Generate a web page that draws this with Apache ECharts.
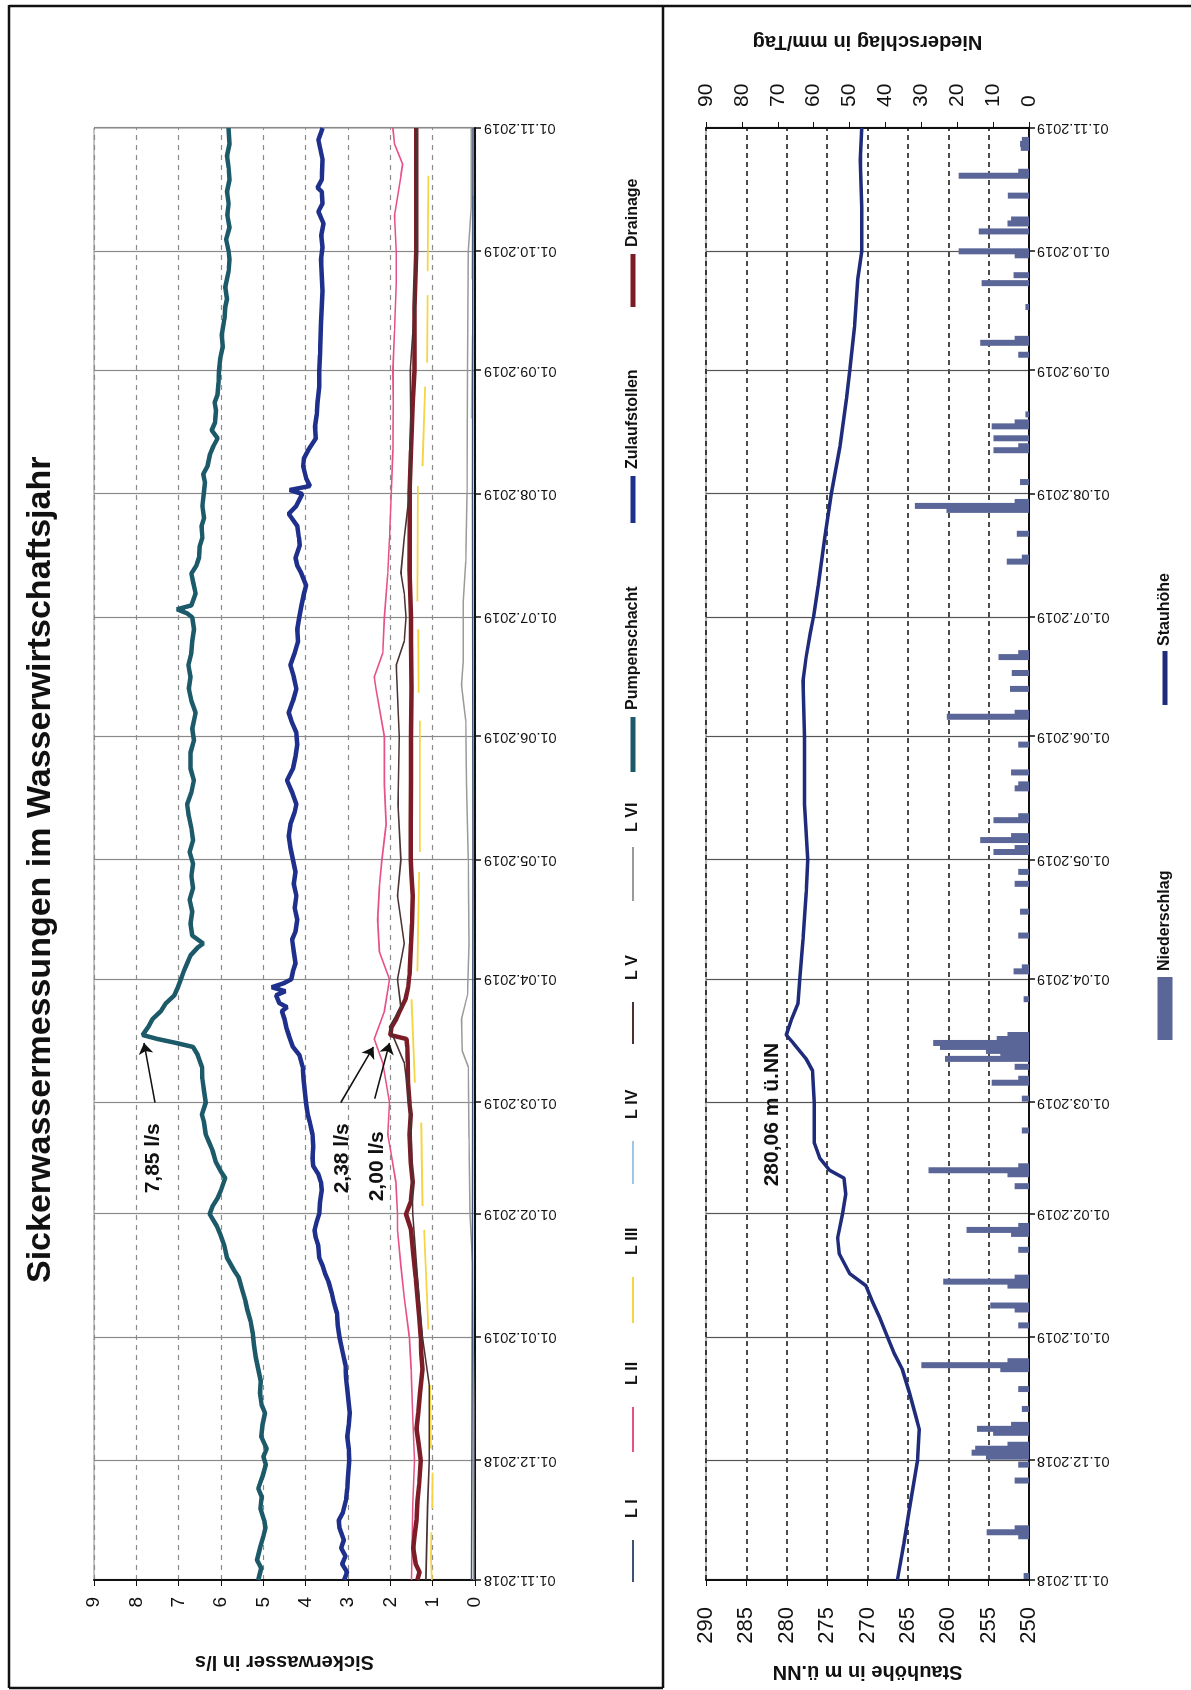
<!DOCTYPE html>
<html lang="de">
<head>
<meta charset="utf-8">
<title>Sickerwassermessungen im Wasserwirtschaftsjahr</title>
<script src="https://cdn.jsdelivr.net/npm/echarts@6.0.0/dist/echarts.min.js"></script>
<style>
  html, body { margin: 0; padding: 0; width: 1191px; height: 1690px; overflow: hidden; background: #fff; }
  /* the sheet is laid out in landscape and turned a quarter counter-clockwise */
  #sheet { position: absolute; left: 0; top: 0; width: 1690px; height: 1191px;
           transform-origin: 0 0; transform: translate(0, 1690px) rotate(-90deg); }
</style>
</head>
<body>
<div id="sheet"></div>
<script>
// ---------- measured values ----------
const pumpenschacht = [
  ['2018-11-01',5.12],['2018-11-04',5.05],['2018-11-06',5.15],['2018-11-09',5.08],['2018-11-12',5.00],['2018-11-14',4.95],
  ['2018-11-16',4.98],['2018-11-19',5.07],['2018-11-22',5.04],['2018-11-24',5.12],['2018-11-27',5.02],['2018-11-30',4.94],
  ['2018-12-02',5.00],['2018-12-04',4.92],['2018-12-07',5.05],['2018-12-10',5.02],['2018-12-13',4.96],['2018-12-15',5.04],
  ['2018-12-18',5.08],['2018-12-21',5.06],['2018-12-24',5.12],['2018-12-27',5.18],['2018-12-30',5.22],['2019-01-02',5.25],
  ['2019-01-05',5.30],['2019-01-08',5.38],['2019-01-10',5.42],['2019-01-13',5.50],['2019-01-16',5.58],['2019-01-18',5.70],
  ['2019-01-21',5.86],['2019-01-24',5.92],['2019-01-27',6.02],['2019-01-29',6.10],['2019-02-01',6.27],['2019-02-03',6.20],
  ['2019-02-05',6.08],['2019-02-07',6.00],['2019-02-10',5.90],['2019-02-12',6.02],['2019-02-14',6.12],['2019-02-17',6.20],
  ['2019-02-19',6.28],['2019-02-21',6.36],['2019-02-24',6.40],['2019-02-26',6.45],['2019-03-01',6.36],['2019-03-04',6.40],
  ['2019-03-07',6.44],['2019-03-10',6.45],['2019-03-13',6.55],['2019-03-15',6.66],['2019-03-16',7.06],['2019-03-17',7.50],
  ['2019-03-18',7.85],['2019-03-20',7.72],['2019-03-22',7.62],['2019-03-24',7.42],['2019-03-26',7.30],['2019-03-28',7.10],
  ['2019-03-30',7.02],['2019-04-01',6.95],['2019-04-03',6.88],['2019-04-05',6.80],['2019-04-07',6.72],['2019-04-09',6.55],
  ['2019-04-10',6.42],['2019-04-11',6.55],['2019-04-12',6.68],['2019-04-15',6.72],['2019-04-18',6.68],['2019-04-21',6.74],
  ['2019-04-24',6.66],['2019-04-27',6.70],['2019-04-30',6.66],['2019-05-03',6.74],['2019-05-06',6.66],['2019-05-09',6.70],
  ['2019-05-12',6.76],['2019-05-15',6.80],['2019-05-18',6.70],['2019-05-21',6.64],['2019-05-24',6.72],['2019-05-28',6.72],
  ['2019-05-31',6.64],['2019-06-03',6.68],['2019-06-07',6.60],['2019-06-10',6.70],['2019-06-13',6.76],['2019-06-16',6.72],
  ['2019-06-19',6.77],['2019-06-22',6.70],['2019-06-25',6.68],['2019-06-28',6.64],['2019-07-01',6.68],['2019-07-02',6.80],
  ['2019-07-03',7.04],['2019-07-04',6.70],['2019-07-07',6.60],['2019-07-10',6.66],['2019-07-12',6.70],['2019-07-14',6.58],
  ['2019-07-16',6.52],['2019-07-19',6.50],['2019-07-21',6.44],['2019-07-24',6.46],['2019-07-26',6.40],['2019-07-29',6.44],
  ['2019-08-01',6.41],['2019-08-04',6.38],['2019-08-06',6.42],['2019-08-08',6.32],['2019-08-11',6.26],['2019-08-13',6.18],
  ['2019-08-15',6.08],['2019-08-17',6.22],['2019-08-19',6.14],['2019-08-22',6.12],['2019-08-24',6.15],['2019-08-26',6.08],
  ['2019-08-29',6.06],['2019-09-01',6.05],['2019-09-04',6.02],['2019-09-07',5.96],['2019-09-10',5.98],['2019-09-14',5.92],
  ['2019-09-17',5.90],['2019-09-19',5.86],['2019-09-22',5.90],['2019-09-26',5.82],['2019-09-29',5.80],['2019-10-01',5.82],
  ['2019-10-04',5.88],['2019-10-07',5.80],['2019-10-10',5.85],['2019-10-13',5.82],['2019-10-16',5.86],['2019-10-19',5.80],
  ['2019-10-22',5.82],['2019-10-25',5.86],['2019-10-28',5.80],['2019-11-01',5.82]
];

const zulaufstollen = [
  ['2018-11-01',3.09],['2018-11-03',3.02],['2018-11-05',3.14],['2018-11-07',3.06],['2018-11-09',3.16],['2018-11-11',3.10],
  ['2018-11-14',3.20],['2018-11-16',3.22],['2018-11-18',3.12],['2018-11-21',3.05],['2018-11-24',3.02],['2018-11-27',3.00],
  ['2018-12-01',2.97],['2018-12-04',2.98],['2018-12-07',3.02],['2018-12-10',2.98],['2018-12-13',2.96],['2018-12-16',2.99],
  ['2018-12-19',3.02],['2018-12-22',3.05],['2018-12-25',3.06],['2018-12-28',3.12],['2019-01-01',3.20],['2019-01-04',3.24],
  ['2019-01-07',3.26],['2019-01-10',3.34],['2019-01-12',3.38],['2019-01-15',3.46],['2019-01-17',3.54],['2019-01-19',3.60],
  ['2019-01-21',3.68],['2019-01-24',3.70],['2019-01-26',3.76],['2019-01-28',3.79],['2019-01-30',3.74],['2019-02-01',3.68],
  ['2019-02-04',3.66],['2019-02-07',3.62],['2019-02-09',3.64],['2019-02-11',3.70],['2019-02-13',3.82],['2019-02-15',3.84],
  ['2019-02-18',3.82],['2019-02-21',3.84],['2019-02-24',3.90],['2019-02-26',3.95],['2019-03-01',3.99],['2019-03-04',4.02],
  ['2019-03-07',4.05],['2019-03-10',4.07],['2019-03-13',4.15],['2019-03-15',4.30],['2019-03-18',4.40],['2019-03-20',4.46],
  ['2019-03-22',4.50],['2019-03-24',4.56],['2019-03-25',4.44],['2019-03-26',4.62],['2019-03-28',4.70],['2019-03-29',4.48],
  ['2019-03-30',4.80],['2019-03-31',4.52],['2019-04-01',4.34],['2019-04-03',4.30],['2019-04-05',4.24],['2019-04-08',4.28],
  ['2019-04-11',4.32],['2019-04-13',4.24],['2019-04-16',4.20],['2019-04-19',4.26],['2019-04-22',4.22],['2019-04-25',4.28],
  ['2019-04-28',4.24],['2019-05-01',4.30],['2019-05-04',4.36],['2019-05-07',4.40],['2019-05-10',4.36],['2019-05-13',4.26],
  ['2019-05-15',4.22],['2019-05-18',4.32],['2019-05-21',4.44],['2019-05-24',4.30],['2019-05-27',4.24],['2019-05-30',4.20],
  ['2019-06-02',4.22],['2019-06-05',4.34],['2019-06-07',4.40],['2019-06-10',4.30],['2019-06-13',4.22],['2019-06-16',4.28],
  ['2019-06-19',4.36],['2019-06-22',4.26],['2019-06-25',4.18],['2019-06-28',4.20],['2019-07-01',4.15],['2019-07-04',4.10],
  ['2019-07-07',4.04],['2019-07-09',3.99],['2019-07-12',4.10],['2019-07-14',4.20],['2019-07-16',4.24],['2019-07-19',4.14],
  ['2019-07-21',4.16],['2019-07-24',4.20],['2019-07-27',4.40],['2019-07-29',4.22],['2019-08-01',4.08],['2019-08-02',4.38],
  ['2019-08-03',3.90],['2019-08-05',3.99],['2019-08-08',4.06],['2019-08-10',4.04],['2019-08-12',3.94],['2019-08-15',3.76],
  ['2019-08-18',3.78],['2019-08-21',3.74],['2019-08-24',3.72],['2019-08-28',3.68],['2019-09-01',3.68],['2019-09-05',3.66],
  ['2019-09-09',3.65],['2019-09-13',3.64],['2019-09-17',3.62],['2019-09-21',3.60],['2019-09-25',3.62],['2019-09-29',3.64],
  ['2019-10-02',3.60],['2019-10-05',3.63],['2019-10-08',3.58],['2019-10-11',3.70],['2019-10-13',3.60],['2019-10-16',3.62],
  ['2019-10-17',3.72],['2019-10-19',3.62],['2019-10-24',3.60],['2019-10-29',3.70],['2019-11-01',3.60]
];

const drainage = [
  ['2018-11-01',1.36],['2018-11-03',1.31],['2018-11-05',1.40],['2018-11-09',1.46],['2018-11-12',1.43],['2018-11-16',1.38],
  ['2018-11-21',1.36],['2018-11-25',1.32],['2018-12-01',1.28],['2018-12-05',1.33],['2018-12-09',1.38],['2018-12-13',1.34],
  ['2018-12-18',1.30],['2018-12-24',1.24],['2018-12-28',1.27],['2019-01-01',1.28],['2019-01-06',1.32],['2019-01-11',1.36],
  ['2019-01-16',1.40],['2019-01-22',1.46],['2019-01-28',1.51],['2019-02-01',1.63],['2019-02-04',1.52],['2019-02-09',1.47],
  ['2019-02-14',1.52],['2019-02-21',1.55],['2019-02-26',1.52],['2019-03-01',1.55],['2019-03-06',1.58],['2019-03-11',1.59],
  ['2019-03-15',1.60],['2019-03-17',1.62],['2019-03-18',2.00],['2019-03-20',1.97],['2019-03-22',1.86],['2019-03-24',1.78],
  ['2019-03-27',1.64],['2019-03-30',1.58],['2019-04-02',1.55],['2019-04-06',1.53],['2019-04-10',1.51],['2019-04-15',1.49],
  ['2019-04-22',1.47],['2019-04-27',1.50],['2019-05-01',1.52],['2019-05-10',1.52],['2019-05-21',1.51],['2019-06-01',1.51],
  ['2019-06-13',1.50],['2019-06-25',1.51],['2019-07-01',1.51],['2019-07-13',1.55],['2019-07-25',1.54],['2019-08-01',1.55],
  ['2019-08-12',1.51],['2019-08-24',1.47],['2019-09-01',1.43],['2019-09-17',1.43],['2019-10-01',1.39],['2019-10-15',1.39],
  ['2019-11-01',1.39]
];

const lZwei = [
  ['2018-11-01',1.50],['2018-11-20',1.47],['2018-12-01',1.43],['2018-12-12',1.47],['2018-12-24',1.51],['2019-01-01',1.55],
  ['2019-01-11',1.67],['2019-01-19',1.75],['2019-01-28',1.83],['2019-02-01',1.83],['2019-02-09',1.87],['2019-02-16',1.98],
  ['2019-02-21',2.06],['2019-03-01',2.02],['2019-03-11',2.18],['2019-03-17',2.38],['2019-03-24',2.14],['2019-04-01',2.02],
  ['2019-04-08',2.26],['2019-04-16',2.30],['2019-04-24',2.26],['2019-05-01',2.20],['2019-05-10',2.10],['2019-05-20',2.14],
  ['2019-06-01',2.14],['2019-06-13',2.34],['2019-06-16',2.38],['2019-06-22',2.18],['2019-07-01',2.14],['2019-07-12',2.06],
  ['2019-07-21',2.02],['2019-08-01',1.98],['2019-08-12',1.94],['2019-08-24',1.93],['2019-09-01',1.94],['2019-09-11',1.90],
  ['2019-09-23',1.86],['2019-10-01',1.86],['2019-10-10',1.90],['2019-10-20',1.75],['2019-10-23',1.71],['2019-10-28',1.90],
  ['2019-11-01',1.94]
];

const lDrei = [
  ['2018-11-01',1.02],['2018-11-07',1.04],['2018-11-13',1.03],['2018-11-14',null],['2018-11-19',1.01],['2018-11-28',1.00],
  ['2018-11-29',null],['2018-12-04',1.04],['2018-12-20',1.06],['2018-12-21',null],['2019-01-03',1.10],['2019-01-28',1.20],
  ['2019-01-29',null],['2019-02-03',1.24],['2019-02-24',1.27],['2019-02-25',null],['2019-03-06',1.42],['2019-03-27',1.50],
  ['2019-03-28',null],['2019-04-03',1.36],['2019-04-28',1.32],['2019-04-29',null],['2019-05-03',1.30],['2019-06-05',1.30],
  ['2019-06-06',null],['2019-06-12',1.33],['2019-06-28',1.34],['2019-06-29',null],['2019-07-05',1.36],['2019-08-03',1.35],
  ['2019-08-04',null],['2019-08-08',1.24],['2019-08-28',1.18],['2019-08-29',null],['2019-09-03',1.13],['2019-09-20',1.12],
  ['2019-09-21',null],['2019-09-26',1.12],['2019-10-20',1.10]
];

const lFuenf = [
  ['2018-11-01',1.16],['2018-11-20',1.12],['2018-12-01',1.08],['2018-12-20',1.08],['2019-01-01',1.24],['2019-01-16',1.36],
  ['2019-02-01',1.47],['2019-02-21',1.51],['2019-03-01',1.55],['2019-03-11',1.67],['2019-03-17',1.91],['2019-03-20',2.02],
  ['2019-03-25',1.75],['2019-04-01',1.83],['2019-04-10',1.67],['2019-04-22',1.83],['2019-05-01',1.75],['2019-05-15',1.82],
  ['2019-06-01',1.79],['2019-06-19',1.86],['2019-06-25',1.67],['2019-07-01',1.63],['2019-07-07',1.67],['2019-07-12',1.75],
  ['2019-07-21',1.67],['2019-08-01',1.55],['2019-08-12',1.51],['2019-09-01',1.53],['2019-09-17',1.43],['2019-10-01',1.39],
  ['2019-11-01',1.39]
];

const lSechs = [
  ['2018-11-01',0.03],['2018-12-15',0.03],['2019-01-20',0.06],['2019-02-01',0.12],['2019-02-20',0.14],['2019-03-10',0.16],
  ['2019-03-14',0.30],['2019-03-22',0.32],['2019-03-28',0.18],['2019-04-10',0.14],['2019-05-01',0.16],['2019-05-20',0.20],
  ['2019-06-05',0.22],['2019-06-14',0.32],['2019-06-20',0.28],['2019-07-05',0.28],['2019-07-15',0.22],['2019-08-01',0.19],
  ['2019-09-01',0.18],['2019-10-01',0.16],['2019-10-12',0.09],['2019-11-01',0.09]
];

const lEins = [
  ['2018-11-01',0.08],['2018-12-10',0.07],['2019-02-01',0.06],['2019-05-01',0.05],['2019-08-01',0.06],['2019-11-01',0.05]
];

const lVier = [
  ['2019-08-20',0.08],['2019-09-10',0.06],['2019-09-11',null],['2019-09-24',0.07],['2019-10-15',0.05]
];

const stauhoehe = [
  ['2018-11-01',266.3],['2018-11-10',265.5],['2018-11-19',264.8],['2018-12-01',263.8],['2018-12-09',263.6],['2018-12-12',264.0],
  ['2018-12-18',264.8],['2018-12-24',265.7],['2018-12-28',266.7],['2019-01-01',267.5],['2019-01-06',268.5],['2019-01-10',269.4],
  ['2019-01-14',270.2],['2019-01-17',272.2],['2019-01-22',273.5],['2019-01-26',273.7],['2019-02-01',273.1],['2019-02-06',272.7],
  ['2019-02-10',272.9],['2019-02-12',274.7],['2019-02-15',275.9],['2019-02-19',276.6],['2019-03-01',276.6],['2019-03-09',276.8],
  ['2019-03-12',277.6],['2019-03-16',279.2],['2019-03-18',280.06],['2019-03-22',279.4],['2019-03-26',278.6],['2019-04-01',278.4],
  ['2019-04-11',278.0],['2019-04-23',277.6],['2019-05-01',277.4],['2019-05-15',277.8],['2019-06-01',277.8],['2019-06-15',278.0],
  ['2019-06-21',277.6],['2019-06-27',277.1],['2019-07-01',276.7],['2019-07-09',276.1],['2019-07-21',275.3],['2019-08-01',274.5],
  ['2019-08-13',273.4],['2019-08-25',272.6],['2019-09-01',272.2],['2019-09-12',271.6],['2019-09-24',271.2],['2019-10-01',270.7],
  ['2019-10-12',270.7],['2019-10-24',270.9],['2019-11-01',270.7]
];

const niederschlag = [
  ['2018-11-02',1.5],['2018-11-12',3],['2018-11-13',11.8],['2018-11-14',4],['2018-11-26',4],['2018-11-30',3],
  ['2018-12-02',12],['2018-12-03',16],['2018-12-04',15],['2018-12-05',6],['2018-12-08',10],['2018-12-09',14.5],['2018-12-10',5],
  ['2018-12-14',2],['2018-12-19',3],['2018-12-24',8],['2018-12-25',30],['2018-12-26',6],
  ['2019-01-04',3],['2019-01-08',4],['2019-01-09',10.8],['2019-01-14',6],['2019-01-15',23.9],['2019-01-16',4],['2019-01-23',3],
  ['2019-01-27',5],['2019-01-28',17.4],['2019-01-29',3],
  ['2019-02-08',4],['2019-02-11',6],['2019-02-12',28],['2019-02-13',3],['2019-02-22',2],
  ['2019-03-02',2],['2019-03-06',10.4],['2019-03-07',3],['2019-03-10',4],['2019-03-12',23.4],['2019-03-13',8],['2019-03-14',12],
  ['2019-03-15',24.8],['2019-03-16',26.7],['2019-03-17',9],['2019-03-18',6],['2019-03-27',1.5],
  ['2019-04-03',4.3],['2019-04-04',2],['2019-04-12',3],['2019-04-18',2.5],['2019-04-25',4],['2019-04-28',3],
  ['2019-05-03',9.9],['2019-05-04',4],['2019-05-06',13.6],['2019-05-07',5],['2019-05-11',9.9],['2019-05-12',3],['2019-05-19',4],
  ['2019-05-20',3],['2019-05-23',5],['2019-05-30',3],
  ['2019-06-06',22.9],['2019-06-07',4],['2019-06-13',5.3],['2019-06-17',4.8],['2019-06-21',8.5],['2019-06-22',3],
  ['2019-07-15',6.2],['2019-07-16',2],['2019-07-22',3.4],['2019-07-28',23],['2019-07-29',31.8],['2019-07-30',4],
  ['2019-08-04',2.5],['2019-08-12',9.9],['2019-08-13',3],['2019-08-15',9.9],['2019-08-18',10.4],['2019-08-19',4],['2019-08-21',1],
  ['2019-09-05',3],['2019-09-08',13.6],['2019-09-09',4],['2019-09-17',1],['2019-09-23',13.2],['2019-09-25',4.3],['2019-09-30',4],
  ['2019-10-01',19.6],['2019-10-06',14],['2019-10-08',6],['2019-10-09',5],['2019-10-15',5.9],['2019-10-20',19.6],['2019-10-21',3],
  ['2019-10-27',2.3],['2019-10-28',2.5],['2019-10-29',2]
];

const sickerTicks = { min: 0, max: 9, step: 1 };
const stauTicks = { min: 250, max: 290, step: 5 };
const regenTicks = { min: 0, max: 90, step: 10 };

// ---------- daily time line of the water year ----------
const days = [];
for (let t = Date.UTC(2018, 10, 1); t <= Date.UTC(2019, 10, 1); t += 86400000) {
  days.push(new Date(t).toISOString().slice(0, 10));
}
const dayIndex = {};
days.forEach((d, i) => { dayIndex[d] = i; });
const pts = list => list.map(([d, v]) => [dayIndex[d], v]);
const isMonthStart = (i, v) => String(v).slice(8) === '01';
const fmtDate = v => v.slice(8) + '.' + v.slice(5, 7) + '.' + v.slice(0, 4);

const FONT = '"Liberation Sans", Arial, Helvetica, sans-serif';
const INK = '#111';

// date labels use a narrow face when one is installed
function fontInstalled(name) {
  const ctx = document.createElement('canvas').getContext('2d');
  const probe = '01.11.2018 Wasserwirtschaft';
  ctx.font = '40px monospace';
  const base = ctx.measureText(probe).width;
  ctx.font = '40px "' + name + '", monospace';
  return ctx.measureText(probe).width !== base;
}
const narrow = fontInstalled('Liberation Sans Narrow');
const DATE_FONT = narrow ? '"Liberation Sans Narrow", ' + FONT : FONT;
const DATE_SIZE = narrow ? 17 : 14.5;

function dateAxis(gridIndex, margin, monthLine) {
  return {
    type: 'category', gridIndex, data: days, boundaryGap: false,
    axisLine: { show: true, onZero: false, lineStyle: { color: INK, width: 2 } },
    axisTick: { show: true, interval: isMonthStart, length: 6, lineStyle: { color: INK, width: 1.5 } },
    axisLabel: { interval: isMonthStart, rotate: 90, margin, fontSize: DATE_SIZE, fontFamily: DATE_FONT,
                 color: INK, formatter: fmtDate },
    splitLine: { show: true, interval: isMonthStart, lineStyle: { color: monthLine, width: 1.2 } }
  };
}

function line(name, data, color, width, z) {
  return {
    name, type: 'line', xAxisIndex: 0, yAxisIndex: 0, data: pts(data),
    symbol: 'none', showSymbol: false, connectNulls: false, z,
    lineStyle: { color, width }, itemStyle: { color }, emphasis: { disabled: true }
  };
}

function legendItem(name, left, top, w, h, textPad) {
  return {
    data: [name], left, top, icon: 'rect', itemWidth: w, itemHeight: h, itemGap: 0, padding: 0,
    textStyle: { fontSize: 16, fontWeight: 'bold', color: INK, fontFamily: FONT, padding: [0, 0, 0, textPad] }
  };
}

const noteLabel = text => ({
  show: true, position: 'inside', formatter: text, fontSize: 21, fontWeight: 'bold', color: INK, fontFamily: FONT
});
const arrow = (a, b) => ({
  symbol: ['none', 'arrow'], symbolSize: 11, silent: true, animation: false,
  label: { show: false }, lineStyle: { color: INK, width: 1.6, type: 'solid' },
  data: [[{ coord: [dayIndex[a[0]], a[1]] }, { coord: [dayIndex[b[0]], b[1]] }]]
});
const note = (d, v, text) => ({
  symbol: 'circle', symbolSize: 0, silent: true, animation: false,
  label: noteLabel(text), data: [{ coord: [dayIndex[d], v] }]
});

const chart = echarts.init(document.getElementById('sheet'), null, { renderer: 'canvas', width: 1690, height: 1191 });

const pump = line('Pumpenschacht', pumpenschacht, '#1c5a69', 4.5, 9);
pump.markPoint = note('2019-02-15', 7.6, '7,85 l/s');
pump.markLine = arrow(['2019-03-01', 7.56], ['2019-03-16', 7.82]);

const pink = line('L II', lZwei, '#e8508a', 1.6, 4);
pink.markPoint = note('2019-02-15', 3.13, '2,38 l/s');
pink.markLine = arrow(['2019-03-01', 3.17], ['2019-03-15', 2.40]);

const drain = line('Drainage', drainage, '#7b1c26', 4.5, 6);
drain.markPoint = note('2019-02-13', 2.30, '2,00 l/s');
drain.markLine = arrow(['2019-03-02', 2.37], ['2019-03-16', 2.02]);

chart.setOption({
  animation: false,
  textStyle: { fontFamily: FONT },
  title: {
    text: 'Sickerwassermessungen im Wasserwirtschaftsjahr', left: 407, top: 24, padding: 0,
    textStyle: { fontSize: 34, fontWeight: 'bold', color: INK, fontFamily: FONT }
  },
  grid: [
    { left: 110, top: 94, width: 1452, height: 381, show: true, borderColor: '#8a8a8a', borderWidth: 1 },
    { left: 110, top: 706, width: 1452, height: 323, show: true, borderColor: '#777', borderWidth: 1 }
  ],
  xAxis: [dateAxis(0, 9, '#8a8a8a'), dateAxis(1, 8, '#555')],
  yAxis: [
    {
      type: 'value', gridIndex: 0, min: sickerTicks.min, max: sickerTicks.max, interval: sickerTicks.step,
      name: 'Sickerwasser in l/s', nameLocation: 'middle', nameGap: 72,
      nameTextStyle: { fontSize: 20, fontWeight: 'bold', color: INK },
      axisLine: { show: true, lineStyle: { color: INK, width: 2 } },
      axisTick: { show: true, length: 6, lineStyle: { color: INK } },
      axisLabel: { fontSize: 19, color: INK, margin: 17 },
      splitLine: { show: true, lineStyle: { color: '#8c8c8c', type: [5, 5], width: 1.2 } }
    },
    {
      type: 'value', gridIndex: 1, min: stauTicks.min, max: stauTicks.max, interval: stauTicks.step,
      name: 'Stauhöhe in m ü.NN', nameLocation: 'middle', nameGap: 82,
      nameTextStyle: { fontSize: 20, fontWeight: 'bold', color: INK },
      axisLine: { show: true, lineStyle: { color: INK, width: 2 } },
      axisTick: { show: true, length: 6, lineStyle: { color: INK } },
      axisLabel: { fontSize: 22, color: INK, margin: 27 },
      splitLine: { show: true, lineStyle: { color: INK, type: [5, 4], width: 1.6 } }
    },
    {
      type: 'value', gridIndex: 1, position: 'right', min: regenTicks.min, max: regenTicks.max, interval: regenTicks.step,
      name: 'Niederschlag in mm/Tag', nameLocation: 'middle', nameGap: 76,
      nameTextStyle: { fontSize: 20, fontWeight: 'bold', color: INK },
      axisLine: { show: true, lineStyle: { color: INK, width: 2 } },
      axisTick: { show: true, length: 6, lineStyle: { color: INK } },
      axisLabel: { fontSize: 21, color: INK, margin: 21 },
      splitLine: { show: false }
    }
  ],
  legend: [
    legendItem('L I', 108, 625, 42, 2, 17),
    legendItem('L II', 238, 625, 45, 2, 17),
    legendItem('L III', 367, 625, 46, 2, 17),
    legendItem('L IV', 506, 625, 43, 2, 17),
    legendItem('L V', 646, 625, 42, 2, 17),
    legendItem('L VI', 789, 625, 54, 2, 10),
    legendItem('Pumpenschacht', 918, 625, 55, 5, 2),
    legendItem('Zulaufstollen', 1167, 625, 47, 5, 2),
    legendItem('Drainage', 1383, 625, 53, 5, 2),
    legendItem('Niederschlag', 650, 1157, 63, 15, 1),
    legendItem('Stauhöhe', 985, 1157, 54, 5, 0)
  ],
  series: [
    line('L VI', lSechs, '#9a9a9a', 1.5, 2),
    line('L IV', lVier, '#9cc8e3', 1.6, 2),
    line('L I', lEins, '#3d5373', 1.5, 2),
    line('L III', lDrei, '#f5d545', 1.8, 3),
    pink,
    drain,
    line('L V', lFuenf, '#4a3232', 1.6, 7),
    line('Zulaufstollen', zulaufstollen, '#1f2f8c', 4.5, 8),
    pump,
    {
      name: 'Niederschlag', type: 'bar', xAxisIndex: 1, yAxisIndex: 2, data: pts(niederschlag),
      barWidth: 6, itemStyle: { color: '#5b6698' }, z: 2, emphasis: { disabled: true }
    },
    {
      name: 'Stauhöhe', type: 'line', xAxisIndex: 1, yAxisIndex: 1, data: pts(stauhoehe),
      symbol: 'none', showSymbol: false, z: 5, emphasis: { disabled: true },
      lineStyle: { color: '#1f2b7b', width: 3.5 }, itemStyle: { color: '#1f2b7b' },
      markPoint: note('2019-02-26', 281.74, '280,06 m ü.NN')
    }
  ],
  graphic: [
    { type: 'line', silent: true, shape: { x1: 2, y1: 9, x2: 1685, y2: 9 }, style: { stroke: INK, lineWidth: 2.5 } },
    { type: 'line', silent: true, shape: { x1: 1684, y1: 9, x2: 1684, y2: 1191 }, style: { stroke: INK, lineWidth: 2.5 } },
    { type: 'line', silent: true, shape: { x1: 2, y1: 9, x2: 2, y2: 663 }, style: { stroke: INK, lineWidth: 2.5 } },
    { type: 'line', silent: true, shape: { x1: 2, y1: 663, x2: 1684, y2: 663 }, style: { stroke: INK, lineWidth: 2.5 } }
  ]
});
</script>
</body>
</html>
